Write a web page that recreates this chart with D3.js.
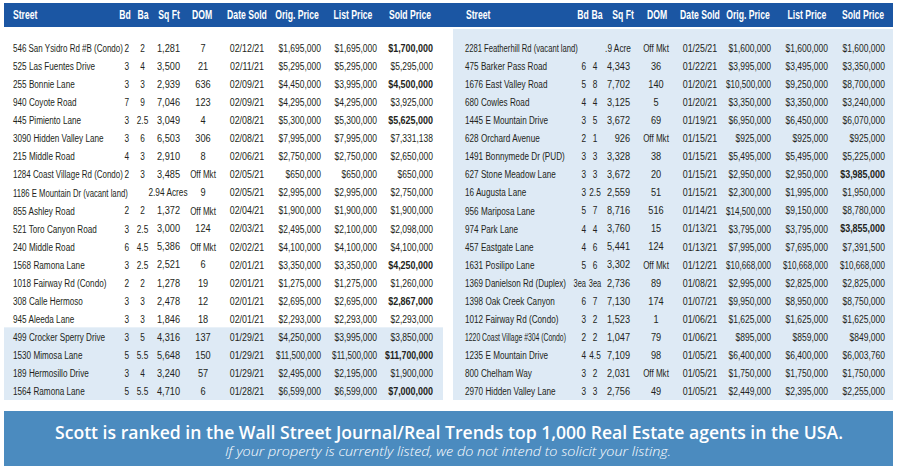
<!DOCTYPE html>
<html><head><meta charset="utf-8">
<script src="https://cdn.jsdelivr.net/npm/d3@7"></script>
<style>body{margin:0;background:#fff;} svg{display:block}</style>
</head><body><svg id="c" width="898" height="468"></svg>
<script>
const headers = ["Street","Bd","Ba","Sq Ft","DOM","Date Sold","Orig. Price","List Price","Sold Price"];

// Left table
const streetsA = ["546 San Ysidro Rd #B (Condo)","525 Las Fuentes Drive","255 Bonnie Lane","940 Coyote Road","445 Pimiento Lane","3090 Hidden Valley Lane","215 Middle Road","1284 Coast Village Rd (Condo)","1186 E Mountain Dr (vacant land)","855 Ashley Road","521 Toro Canyon Road","240 Middle Road","1568 Ramona Lane","1018 Fairway Rd (Condo)","308 Calle Hermoso","945 Aleeda Lane","499 Crocker Sperry Drive","1530 Mimosa Lane","189 Hermosillo Drive","1564 Ramona Lane"];
const bedsA = ["2","3","3","7","3","3","4","2","","2","3","6","3","2","3","3","3","5","3","5"];
const bathsA = ["2","4","3","9","2.5","6","3","3","","2","2.5","4.5","2.5","2","3","3","5","5.5","4","5.5"];
const sqftA = [1281,3500,2939,7046,3049,6503,2910,3485,"2.94 Acres",1372,3000,5386,2521,1278,2478,1846,4316,5648,3240,4710];
const domA = [7,21,636,123,4,306,8,"Off Mkt",9,"Off Mkt",124,"Off Mkt",6,19,12,18,137,150,57,6];
const dateA = ["02/12/21","02/11/21","02/09/21","02/09/21","02/08/21","02/08/21","02/06/21","02/05/21","02/05/21","02/04/21","02/03/21","02/02/21","02/01/21","02/01/21","02/01/21","02/01/21","01/29/21","01/29/21","01/29/21","01/28/21"];
const origA = [1695000,5295000,4450000,4295000,5300000,7995000,2750000,650000,2995000,1900000,2495000,4100000,3350000,1275000,2695000,2293000,4250000,11500000,2495000,6599000];
const listA = [1695000,5295000,3995000,4295000,5300000,7995000,2750000,650000,2995000,1900000,2100000,4100000,3350000,1275000,2695000,2293000,3995000,11500000,2195000,6599000];
const soldA = [1700000,5295000,4500000,3925000,5625000,7331138,2650000,650000,2750000,1900000,2098000,4100000,4250000,1260000,2867000,2293000,3850000,11700000,1900000,7000000];

// Right table
const streetsB = ["2281 Featherhill Rd (vacant land)","475 Barker Pass Road","1676 East Valley Road","680 Cowles Road","1445 E Mountain Drive","628 Orchard Avenue","1491 Bonnymede Dr (PUD)","627 Stone Meadow Lane","16 Augusta Lane","956 Mariposa Lane","974 Park Lane","457 Eastgate Lane","1631 Posilipo  Lane","1369 Danielson Rd (Duplex)","1398 Oak Creek Canyon","1012 Fairway Rd (Condo)","1220 Coast Village #304 (Condo)","1235 E Mountain Drive","800 Chelham Way","2970 Hidden Valley Lane"];
const bedsB = ["","6","5","4","3","2","3","3","3","5","4","4","5","3ea","6","3","2","4","3","3"];
const bathsB = ["","4","8","4","5","1","3","3","2.5","7","4","6","6","3ea","7","2","2","4.5","2","3"];
const sqftB = [".9 Acre",4343,7702,3125,3672,926,3328,3672,2559,8716,3760,5441,3302,2736,7130,1523,1047,7109,2031,2756];
const domB = ["Off Mkt",36,140,5,69,"Off Mkt",38,20,51,516,15,124,"Off Mkt",89,174,1,79,98,"Off Mkt",49];
const dateB = ["01/25/21","01/22/21","01/20/21","01/20/21","01/19/21","01/15/21","01/15/21","01/15/21","01/15/21","01/14/21","01/13/21","01/13/21","01/12/21","01/08/21","01/07/21","01/06/21","01/06/21","01/05/21","01/05/21","01/05/21"];
const origB = [1600000,3995000,10500000,3350000,6950000,925000,5495000,2950000,2300000,14500000,3795000,7995000,10668000,2995000,9950000,1625000,895000,6400000,1750000,2449000];
const listB = [1600000,3495000,9250000,3350000,6450000,925000,5495000,2950000,1995000,9150000,3795000,7695000,10668000,2825000,8950000,1625000,859000,6400000,1750000,2395000];
const soldB = [1600000,3350000,8700000,3240000,6070000,925000,5225000,3985000,1950000,8780000,3855000,7391500,10668000,2825000,8750000,1625000,849000,6003760,1750000,2255000];

const footerTitle = "Scott is ranked in the Wall Street Journal/Real Trends top 1,000 Real Estate agents in the USA.";
const footerNote = "If your property is currently listed, we do not intend to solicit your listing.";

const svg = d3.select("#c");
const FONT = "'Liberation Sans', Arial, sans-serif";
const INK = "#231f20";
const fmtMoney = d3.format("$,");
const fmtNum = v => typeof v === "number" ? d3.format(",")(v) : v;

function put(g, text, x, y, anchor, o) {
  const t = g.append("text")
    .attr("text-anchor", anchor)
    .attr("dominant-baseline", "central")
    .style("font-family", o.family || FONT)
    .style("font-size", (o.size || 11.5) + "px")
    .style("font-weight", o.weight || "normal")
    .style("font-style", o.style || "normal")
    .style("fill", o.fill || INK)
    .text(text);
  const w = t.node().getComputedTextLength();
  let s = o.sx || 1;
  if (o.max && w * s > o.max) s = o.max / w;
  t.attr("transform", `translate(${x},${y}) scale(${s},1)`);
  return t;
}

// backgrounds
svg.append("rect").attr("x", 4).attr("y", 3).attr("width", 889).attr("height", 24).attr("fill", "#1b56a3");
const rowY = d3.scalePoint().domain(d3.range(20)).range([48, 391]);
svg.append("rect").attr("x", 453).attr("y", 29).attr("width", 440).attr("height", 371).attr("fill", "#deeaf5");
svg.append("rect").attr("x", 4).attr("y", rowY(16) - 9.5).attr("width", 439).attr("height", 400 - (rowY(16) - 9.5)).attr("fill", "#deeaf5");
svg.append("rect").attr("x", 4).attr("y", 411).attr("width", 889).attr("height", 55).attr("fill", "#4b8bbf");

const layouts = [
  { cols: { street: 13, bdR: 129, ba: 142.5, sqftR: 180, dom: 203, date: 247, origR: 321, listR: 377, soldR: 433 },
    heads: [13, 125, 143, 169, 202, 247, 297, 353, 410], streetMax: 110, landMax: 115,
    data: { streets: streetsA, beds: bedsA, baths: bathsA, sqft: sqftA, dom: domA, date: dateA, orig: origA, list: listA, sold: soldA } },
  { cols: { street: 465, bdR: 586, ba: 595, sqftR: 630, dom: 656, date: 700, origR: 771, listR: 828, soldR: 885 },
    heads: [466, 583, 597, 623, 657, 700, 748, 807, 863], streetMax: 101, landMax: 113,
    data: { streets: streetsB, beds: bedsB, baths: bathsB, sqft: sqftB, dom: domB, date: dateB, orig: origB, list: listB, sold: soldB } }
];

layouts.forEach(L => {
  const g = svg.append("g");
  headers.forEach((h, i) => {
    put(g, h, L.heads[i], 15, i === 0 ? "start" : "middle", { weight: "bold", size: 12, sx: 0.72, fill: "#fff" });
  });
  const c = L.cols, D = L.data;
  D.streets.forEach((s, i) => {
    const y = rowY(i);
    const land = typeof D.sqft[i] !== "number";
    put(g, s, c.street, y, "start", { sx: 0.71, max: land ? L.landMax : L.streetMax });
    if (D.beds[i]) put(g, D.beds[i], c.bdR, y, "end", { sx: 0.72, max: 12.5 });
    if (D.baths[i]) put(g, D.baths[i], c.ba, y, "middle", { sx: 0.72, max: 12.5 });
    if (land) put(g, D.sqft[i], c.sqftR - 12, y, "middle", { sx: 0.72 });
    else put(g, fmtNum(D.sqft[i]), c.sqftR, y, "end", { sx: 0.8 });
    put(g, fmtNum(D.dom[i]), c.dom, y, "middle", { sx: typeof D.dom[i] === "number" ? 0.8 : 0.7 });
    put(g, D.date[i], c.date, y, "middle", { sx: 0.77 });
    put(g, fmtMoney(D.orig[i]), c.origR, y, "end", { sx: 0.74, max: 45 });
    put(g, fmtMoney(D.list[i]), c.listR, y, "end", { sx: 0.74, max: 45 });
    const up = D.sold[i] > D.list[i];
    put(g, fmtMoney(D.sold[i]), c.soldR, y, "end", { sx: up ? 0.78 : 0.74, max: up ? 48 : 45, weight: up ? "bold" : "normal" });
  });
});

// footer
svg.append("text").attr("x", 449).attr("y", 432).attr("text-anchor", "middle").attr("dominant-baseline", "central")
  .attr("textLength", 788).attr("lengthAdjust", "spacingAndGlyphs")
  .style("font-family", "'Open Sans', sans-serif").style("font-weight", 600).style("font-size", "17.5px").style("fill", "#fff")
  .text(footerTitle);
svg.append("text").attr("x", 448).attr("y", 451).attr("text-anchor", "middle").attr("dominant-baseline", "central")
  .attr("textLength", 446).attr("lengthAdjust", "spacingAndGlyphs")
  .style("font-family", "'Open Sans', sans-serif").style("font-style", "italic").style("font-weight", 300).style("font-size", "12.5px").style("fill", "#fff")
  .text(footerNote);
</script>
</body></html>
